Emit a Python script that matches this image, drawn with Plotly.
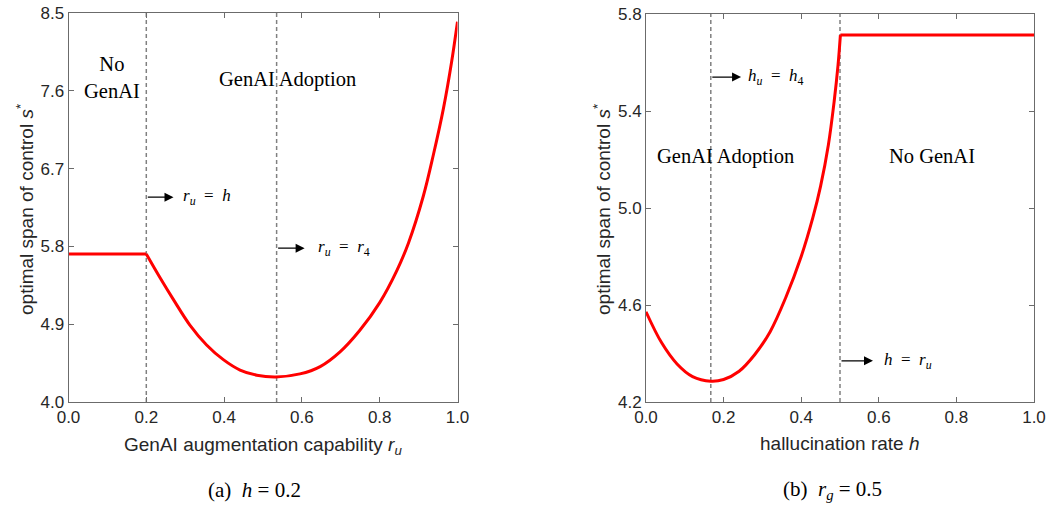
import plotly.graph_objects as go

# ---------------- data ----------------
# Panel (a): h = 0.2
a_flat_x = [0.0, 0.2]
a_flat_y = [5.712, 5.712]
a_curve_x = [0.200, 0.235, 0.269, 0.312, 0.355, 0.398, 0.441, 0.484, 0.533, 0.595,
             0.647, 0.698, 0.749, 0.800, 0.844, 0.874, 0.912, 0.938, 0.964,
             0.985, 1.000]
a_curve_y = [5.712, 5.44, 5.19, 4.89, 4.66, 4.49, 4.37, 4.31, 4.29, 4.325,
             4.41, 4.58, 4.83, 5.15, 5.52, 5.84, 6.38, 6.86, 7.40,
             7.94, 8.40]
a_vlines = [0.2, 0.535]
a_yticks = [4.0, 4.9, 5.8, 6.7, 7.6, 8.5]

# Panel (b): r_g = 0.5
b_curve_x = [0.000, 0.040, 0.080, 0.120, 0.167, 0.200, 0.240, 0.280, 0.320, 0.360,
             0.400, 0.430, 0.450, 0.470, 0.485, 0.495, 0.501]
b_curve_y = [4.572, 4.445, 4.357, 4.305, 4.286, 4.293, 4.327, 4.395, 4.49, 4.63,
             4.80, 4.96, 5.09, 5.26, 5.44, 5.59, 5.713]
b_flat_x = [0.501, 1.0]
b_flat_y = [5.713, 5.713]
b_vlines = [0.167, 0.5]
b_yticks = [4.2, 4.6, 5.0, 5.4, 5.8]

xticks = [0.0, 0.2, 0.4, 0.6, 0.8, 1.0]

W, H = 1049, 508
RED = "#ff0000"
AXC = "#6b6b6b"
TXT = "#262626"
SANS = "Liberation Sans, Arial, sans-serif"
SERIF = "Liberation Serif, Times New Roman, serif"

fig = go.Figure()

def add_line(x, y, xa, ya, shape="linear"):
    fig.add_trace(go.Scatter(x=x, y=y, mode="lines", xaxis=xa, yaxis=ya,
                             line=dict(color=RED, width=3, shape=shape, smoothing=1.0),
                             showlegend=False, hoverinfo="skip"))

add_line(a_flat_x, a_flat_y, "x", "y")
add_line(a_curve_x, a_curve_y, "x", "y", "spline")
add_line(b_curve_x, b_curve_y, "x2", "y2", "spline")
add_line(b_flat_x, b_flat_y, "x2", "y2")

# dashed vertical lines
for v in a_vlines:
    fig.add_shape(type="line", xref="x", yref="y domain", x0=v, x1=v, y0=0, y1=1,
                  line=dict(color="#808080", width=1.5, dash="4px,3px"), layer="below")
for v in b_vlines:
    fig.add_shape(type="line", xref="x2", yref="y2 domain", x0=v, x1=v, y0=0, y1=1,
                  line=dict(color="#808080", width=1.5, dash="4px,3px"), layer="below")

def px_x(p):
    return p / W

def px_y(p):
    return 1 - p / H

axis_common = dict(showline=True, linecolor=AXC, linewidth=1, mirror="ticks",
                   ticks="inside", ticklen=5, tickcolor=AXC, tickwidth=1,
                   showgrid=False, zeroline=False, automargin=False,
                   ticklabeloverflow="allow",
                   tickfont=dict(family=SANS, size=17, color=TXT))

fig.update_layout(
    template="none",
    width=W, height=H, margin=dict(l=0, r=0, t=0, b=0, pad=0), autosize=False,
    paper_bgcolor="white", plot_bgcolor="white", showlegend=False,
    xaxis=dict(domain=[px_x(68.5), px_x(457.5)], range=[0, 1], tickvals=xticks,
               tickformat=".1f", anchor="y", **axis_common),
    yaxis=dict(domain=[px_y(402), px_y(13)], range=[4.0, 8.5], tickvals=a_yticks,
               tickformat=".1f", anchor="x", **axis_common),
    xaxis2=dict(domain=[px_x(646), px_x(1034)], range=[0, 1], tickvals=xticks,
                tickformat=".1f", anchor="y2", **axis_common),
    yaxis2=dict(domain=[px_y(402), px_y(14)], range=[4.2, 5.8], tickvals=b_yticks,
                tickformat=".1f", anchor="x2", **axis_common),
)

ann = []
# axis titles
ann.append(dict(text="optimal span of control <i>s</i><sup>*</sup>", textangle=-90,
                xref="paper", yref="paper", x=px_x(25), y=px_y(210), showarrow=False,
                font=dict(family=SANS, size=19, color=TXT), xanchor="center", yanchor="middle"))
ann.append(dict(text="optimal span of control <i>s</i><sup>*</sup>", textangle=-90,
                xref="paper", yref="paper", x=px_x(602), y=px_y(210), showarrow=False,
                font=dict(family=SANS, size=19, color=TXT), xanchor="center", yanchor="middle"))
ann.append(dict(text="GenAI augmentation capability <i>r</i><sub><i>u</i></sub>",
                xref="paper", yref="paper", x=px_x(263), y=px_y(446), showarrow=False,
                font=dict(family=SANS, size=19, color=TXT), xanchor="center", yanchor="middle"))
ann.append(dict(text="hallucination rate <i>h</i>",
                xref="paper", yref="paper", x=px_x(840), y=px_y(443), showarrow=False,
                font=dict(family=SANS, size=19, color=TXT), xanchor="center", yanchor="middle"))
# captions
ann.append(dict(text="(a)&nbsp; <i>h</i> = 0.2", xref="paper", yref="paper", x=px_x(254), y=px_y(490),
                showarrow=False, font=dict(family=SERIF, size=21, color="black"),
                xanchor="center", yanchor="middle"))
ann.append(dict(text="(b)&nbsp; <i>r</i><sub><i>g</i></sub> = 0.5", xref="paper", yref="paper",
                x=px_x(832), y=px_y(490), showarrow=False,
                font=dict(family=SERIF, size=21, color="black"), xanchor="center", yanchor="middle"))

# region labels
ann.append(dict(text="No<br>GenAI", xref="x", yref="y", x=0.111, y=7.755, showarrow=False,
                font=dict(family=SERIF, size=20.5, color="black"), xanchor="center", yanchor="middle"))
ann.append(dict(text="GenAI Adoption", xref="x", yref="y", x=0.563, y=7.725, showarrow=False,
                font=dict(family=SERIF, size=20.5, color="black"), xanchor="center", yanchor="middle"))
ann.append(dict(text="GenAI Adoption", xref="x2", yref="y2", x=0.204, y=5.214, showarrow=False,
                font=dict(family=SERIF, size=20.5, color="black"), xanchor="center", yanchor="middle"))
ann.append(dict(text="No GenAI", xref="x2", yref="y2", x=0.737, y=5.214, showarrow=False,
                font=dict(family=SERIF, size=20.5, color="black"), xanchor="center", yanchor="middle"))

# arrows + math labels
EQ = "&nbsp;&nbsp;=&nbsp;&nbsp;"
arrows = [
    # (xref, yref, tail_x, head_x, y, label_x, label)
    ("x", "y", 0.2, 0.27, 6.37, 0.289, "<i>r</i><sub><i>u</i></sub>" + EQ + "<i>h</i>"),
    ("x", "y", 0.535, 0.607, 5.78, 0.636, "<i>r</i><sub><i>u</i></sub>" + EQ + "<i>r</i><sub>4</sub>"),
    ("x2", "y2", 0.167, 0.245, 5.54, 0.258, "<i>h</i><sub><i>u</i></sub>" + EQ + "<i>h</i><sub>4</sub>"),
    ("x2", "y2", 0.5, 0.585, 4.37, 0.607, "<i>h</i>" + EQ + "<i>r</i><sub><i>u</i></sub>"),
]
for xr, yr, tx, hx, yy, lx, lab in arrows:
    ann.append(dict(x=hx, y=yy, ax=tx, ay=yy, xref=xr, yref=yr, axref=xr, ayref=yr,
                    text="", showarrow=True, arrowhead=2, arrowsize=1.5, arrowwidth=1.2,
                    arrowcolor="black"))
    ann.append(dict(text=lab, xref=xr, yref=yr, x=lx, y=yy, showarrow=False,
                    font=dict(family=SERIF, size=17, color="black"),
                    xanchor="left", yanchor="middle"))

fig.update_layout(annotations=ann)
fig.write_html("out.html", config={"displayModeBar": False},
               post_script="document.body.style.margin='0';document.body.style.overflow='hidden';")
